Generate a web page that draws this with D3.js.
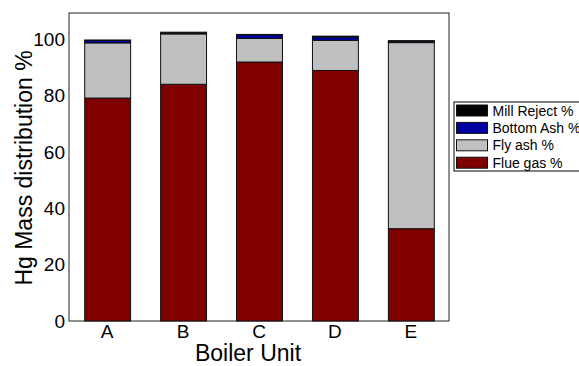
<!DOCTYPE html><html><head><meta charset="UTF-8"><script src="https://d3js.org/d3.v7.min.js"></script><style>
body { margin: 0; background: #fff; font-family: "Liberation Sans", Arial, sans-serif; }
</style></head><body><svg id="chart" width="579" height="366"></svg><script>
const units = ["A", "B", "C", "D", "E"];
const flueGas = [79.2, 84.1, 92.0, 89.0, 32.8];
const flyAsh = [19.6, 17.9, 8.4, 10.7, 66.1];
const bottomAsh = [0.9, 0.1, 1.3, 1.2, 0.5];
const millReject = [0.1, 0.5, 0.1, 0.3, 0.2];
const yTicks = [0, 20, 40, 60, 80, 100];

const series = [
  { key: "Flue gas %", values: flueGas, color: "#800000" },
  { key: "Fly ash %", values: flyAsh, color: "#c0c0c0" },
  { key: "Bottom Ash %", values: bottomAsh, color: "#0000a0" },
  { key: "Mill Reject %", values: millReject, color: "#000000" }
];

const svg = d3.select("#chart");
const plotL = 69, plotR = 449, plotT = 13, plotB = 321;

const x = d3.scaleBand().domain(units).range([plotL, plotR]).paddingInner(0.395).paddingOuter(0.2);
const y = d3.scaleLinear().domain([0, 100]).range([plotB, 39.5]);

// stacked data
const rows = units.map((u, i) => {
  const r = { unit: u };
  series.forEach(s => r[s.key] = s.values[i]);
  return r;
});
const stack = d3.stack().keys(series.map(s => s.key))(rows);

svg.append("rect").attr("x", plotL).attr("y", plotT).attr("width", plotR - plotL).attr("height", plotB - plotT)
  .attr("fill", "none").attr("stroke", "#222").attr("stroke-width", 1);

stack.forEach((layer, li) => {
  svg.append("g").selectAll("rect").data(layer).join("rect")
    .attr("x", d => x(d.data.unit) + 0.5)
    .attr("width", x.bandwidth())
    .attr("y", d => y(d[1]))
    .attr("height", d => y(d[0]) - y(d[1]))
    .attr("fill", series[li].color)
    .attr("stroke", "#111")
    .attr("stroke-width", 1);
});

// axes
const yAxis = svg.append("g").attr("transform", `translate(${plotL},0)`)
  .call(d3.axisLeft(y).tickValues(yTicks).tickSize(0).tickPadding(4));
yAxis.select(".domain").remove();
yAxis.selectAll("text").attr("font-size", 19).attr("font-family", "Liberation Sans, Arial, sans-serif").attr("fill", "#000");

const xAxis = svg.append("g").attr("transform", `translate(0,${plotB})`)
  .call(d3.axisBottom(x).tickSize(0).tickPadding(3));
xAxis.select(".domain").remove();
xAxis.selectAll("text").attr("font-size", 19).attr("font-family", "Liberation Sans, Arial, sans-serif").attr("fill", "#000");

svg.append("text").attr("x", 248).attr("y", 361).attr("text-anchor", "middle")
  .attr("font-size", 23).text("Boiler Unit");
svg.append("text").attr("transform", "translate(32,168) rotate(-90)").attr("text-anchor", "middle")
  .attr("font-size", 23).text("Hg Mass distribution %");

// legend
const legend = svg.append("g").attr("transform", "translate(454,102)");
legend.append("rect").attr("width", 130).attr("height", 69).attr("fill", "#fff").attr("stroke", "#000");
series.slice().reverse().forEach((s, i) => {
  const g = legend.append("g").attr("transform", `translate(2.5,${3 + i * 17.4})`);
  g.append("rect").attr("width", 31).attr("height", 11).attr("fill", s.color).attr("stroke", "#111");
  g.append("text").attr("x", 36).attr("y", 10.5).attr("font-size", 14).text(s.key);
});
</script></body></html>
